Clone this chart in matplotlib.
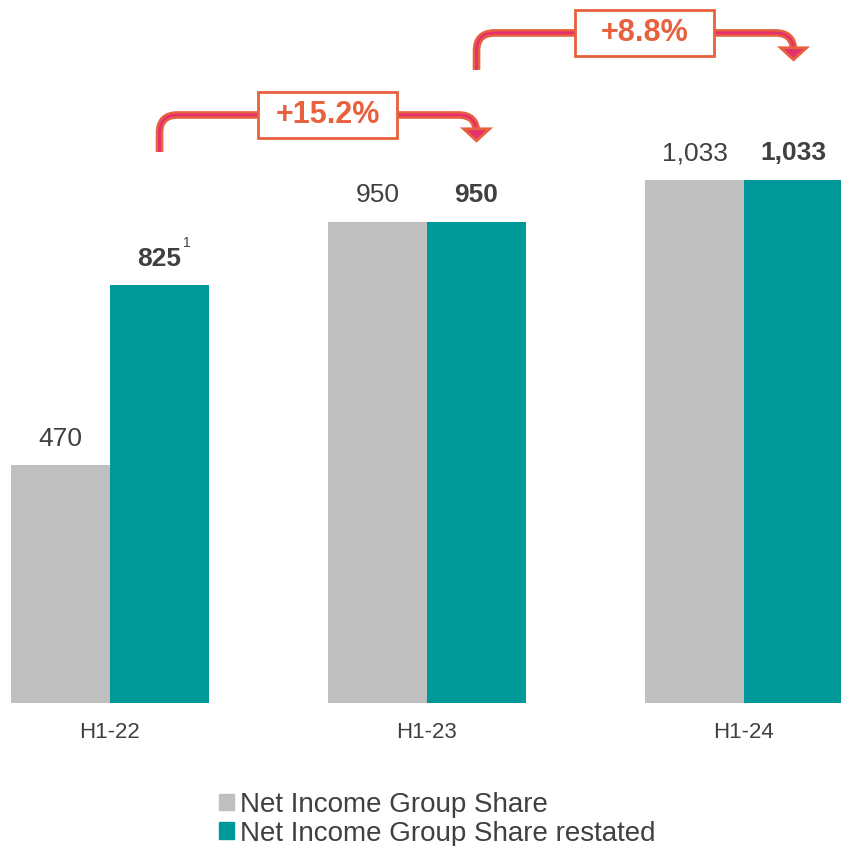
import matplotlib.pyplot as plt
from matplotlib.patches import Patch, Rectangle, PathPatch
from matplotlib.path import Path
import numpy as np

periods = ["H1-22", "H1-23", "H1-24"]
reported = [470, 950, 1033]
restated = [825, 950, 1033]
growth = ["+15.2%", "+8.8%"]
series_names = ["Net Income Group Share", "Net Income Group Share restated"]

GREY = "#BFBFBF"
TEAL = "#009999"
TXT = "#404040"
ORANGE = "#E8613F"
PINK = "#E5306E"

plt.rcParams["font.family"] = ["Liberation Sans", "DejaVu Sans"]

fig = plt.figure(figsize=(8.41, 8.46), dpi=100)
ax = fig.add_axes([0, 143 / 846, 1, 703 / 846])

w = 0.3125
x = np.arange(len(periods))
ax.bar(x - w / 2, reported, w, color=GREY)
ax.bar(x + w / 2, restated, w, color=TEAL)
ax.set_xlim(-0.347, 2.306)
ax.set_ylim(0, 1388)

# value labels
for i in range(len(periods)):
    ax.annotate(f"{reported[i]:,}", (x[i] - w / 2, reported[i]), xytext=(0, 19),
                textcoords="offset points", ha="center", va="center",
                fontsize=19, color=TXT)
    ax.annotate(f"{restated[i]:,}", (x[i] + w / 2, restated[i]), xytext=(0, 19),
                textcoords="offset points", ha="center", va="center",
                fontsize=19, color=TXT, fontweight="bold")
ax.annotate("1", (x[0] + w / 2, restated[0]), xytext=(20, 30),
            textcoords="offset points", ha="center", va="center",
            fontsize=10, color=TXT)

ax.set_xticks(x)
ax.set_xticklabels(periods, fontsize=16, color=TXT,
                   family=["Liberation Sans Narrow", "Liberation Sans"])
ax.tick_params(axis="x", length=0, pad=14)
ax.set_yticks([])
for s in ax.spines.values():
    s.set_visible(False)

# growth brackets between restated bars
px_x = 317.0
px_y = 0.5064


def bracket(x0, x1, y0, ylev, ytip, label):
    rx, ry = 18 / px_x, 18 / px_y
    verts = [(x0, y0), (x0, ylev - ry), (x0, ylev), (x0 + rx, ylev),
             (x1 - rx, ylev), (x1, ylev), (x1, ylev - ry), (x1, ytip + 10 / px_y)]
    codes = [Path.MOVETO, Path.LINETO, Path.CURVE3, Path.CURVE3,
             Path.LINETO, Path.CURVE3, Path.CURVE3, Path.LINETO]
    p = Path(verts, codes)
    ax.add_patch(PathPatch(p, fill=False, ec=ORANGE, lw=5.5,
                           capstyle="butt", clip_on=False))
    ax.add_patch(PathPatch(p, fill=False, ec=PINK, lw=2,
                           capstyle="butt", clip_on=False))
    hw, hh = 13 / px_x, 12 / px_y
    head = plt.Polygon([(x1 - hw, ytip + hh), (x1 + hw, ytip + hh), (x1, ytip)],
                       closed=True, fc=PINK, ec=ORANGE, lw=2, clip_on=False)
    ax.add_patch(head)
    cx = (x0 + x1) / 2 + 0.03
    bw, bh = 139 / px_x, 46 / px_y
    ax.add_patch(Rectangle((cx - bw / 2, ylev - bh / 2), bw, bh, fc="white",
                           ec=ORANGE, lw=2, clip_on=False, zorder=3))
    ax.text(cx, ylev, label, ha="center", va="center", fontsize=22,
            fontweight="bold", color=ORANGE, zorder=4)


bracket(x[0] + w / 2, x[1] + w / 2, 1088, 1161, 1110, growth[0])
bracket(x[1] + w / 2, x[2] + w / 2, 1250, 1323, 1270, growth[1])

handles = [Patch(color=GREY), Patch(color=TEAL)]
fig.legend(handles, series_names, loc="upper left",
           bbox_to_anchor=(205 / 841, 1 - 778 / 846), frameon=False,
           fontsize=20, handlelength=0.55, handleheight=0.55, handletextpad=0.2,
           labelspacing=0.1, borderpad=0, labelcolor=TXT)

plt.savefig("out.png", dpi=100)
